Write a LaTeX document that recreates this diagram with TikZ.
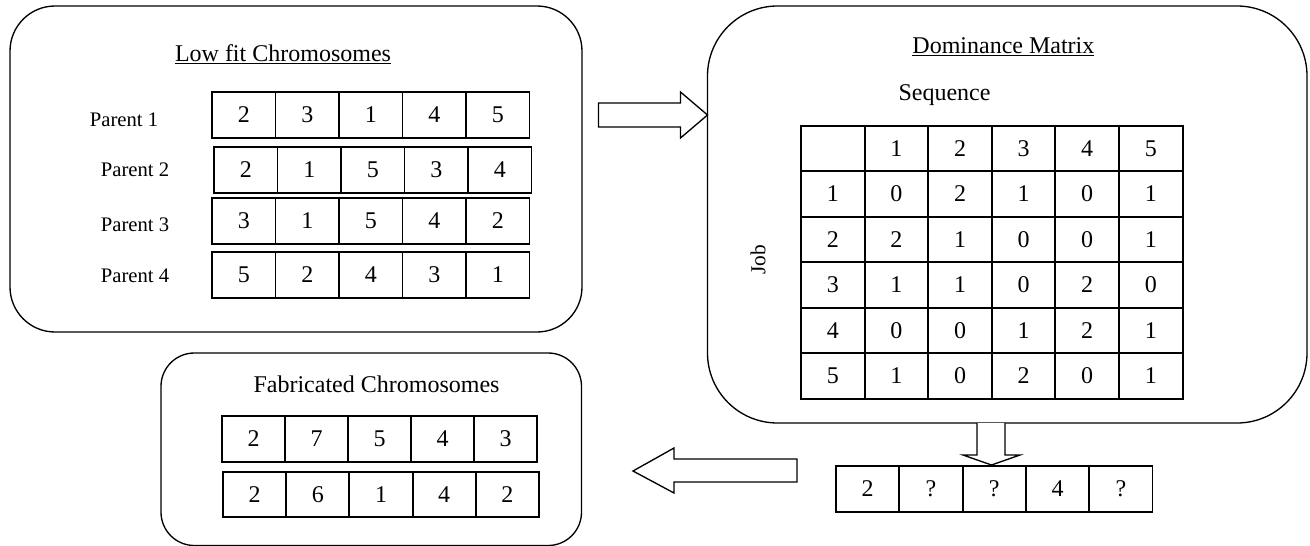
\documentclass[tikz,border=0pt]{standalone}
\usepackage{fontspec}
\setmainfont{Liberation Serif}
\usetikzlibrary{fit,calc}
\begin{document}
\begin{tikzpicture}[x=0.75pt,y=-0.75pt,
  panel/.style={draw, line width=1pt, inner sep=0pt, outer sep=0pt},
  cell/.style={draw, line width=1.4pt, inner sep=0pt, outer sep=0pt, font=\fontsize{18}{21}\selectfont},
  ttl/.style={font=\fontsize{18}{22}\selectfont, anchor=base, inner sep=0pt},
  plabel/.style={font=\fontsize{15.5}{18}\selectfont, anchor=base, inner sep=0pt},
  blockarrow/.style={draw, line width=1pt, fill=white, line join=miter}]
\useasboundingbox (0,0) rectangle (1310,546);
\fill[white] (0,0) rectangle (1310,546);

% panels
\node[panel, rounded corners=33.75pt, fit={(10,6) (582,332)}] (low) {};
\node[panel, rounded corners=52.5pt, fit={(707.5,6) (1307,423)}] (dom) {};
\node[panel, rounded corners=25pt, fit={(161,353) (581.5,545.5)}] (fab) {};

% titles
\node[ttl] (lowt) at (283,61) {\underline{Low fit Chromosomes}};
\node[ttl] (domt) at (1003.4,53) {\underline{Dominance Matrix}};
\node[ttl] (seq) at (944.5,100.7) {Sequence};
\node[ttl] (fabt) at (376.5,392.7) {Fabricated Chromosomes};
\node[font=\fontsize{16}{19}\selectfont, rotate=90, inner sep=0pt] (job) at (758,260) {Job};

% parent labels
\node[plabel] (l1) at (124,126.7) {Parent 1};
\node[plabel] (l2) at (135,176.7) {Parent 2};
\node[plabel] (l3) at (135,231.7) {Parent 3};
\node[plabel] (l4) at (135,282.7) {Parent 4};

% parent chromosomes
\foreach \r/\x/\y/\vals in {1/212/92/{2,3,1,4,5}, 2/214/147/{2,1,5,3,4}, 3/212/198/{3,1,5,4,2}, 4/212/252/{5,2,4,3,1}} {
  \foreach \v [count=\c] in \vals {
    \node[cell, minimum width=47.6pt, minimum height=34.5pt] (p\r-\c) at ({\x+63.5*(\c-0.5)},{\y+23}) {\v};
  }
}

% dominance matrix
\foreach \r/\vals in {0/{{},1,2,3,4,5}, 1/{1,0,2,1,0,1}, 2/{2,2,1,0,0,1}, 3/{3,1,1,0,2,0}, 4/{4,0,0,1,2,1}, 5/{5,1,0,2,0,1}} {
  \foreach \v [count=\c] in \vals {
    \node[cell, minimum width=47.7pt, minimum height=34.1pt] (m\r-\c) at ({801+63.6*(\c-0.5)},{125.7+45.5*(\r+0.5)}) {\v};
  }
}

% partial sequence
\foreach \v [count=\c] in {2,?,?,4,?} {
  \node[cell, minimum width=47.5pt, minimum height=34.3pt] (s-\c) at ({836+63.3*(\c-0.5)},488.8) {\v};
}

% fabricated chromosomes
\foreach \v [count=\c] in {2,7,5,4,3} {
  \node[cell, minimum width=47.25pt, minimum height=34.5pt] (f1-\c) at ({222+63*(\c-0.5)},439) {\v};
}
\foreach \v [count=\c] in {2,6,1,4,2} {
  \node[cell, minimum width=47.4pt, minimum height=33.75pt] (f2-\c) at ({223+63.2*(\c-0.5)},494.5) {\v};
}

% block arrows
\coordinate (y1) at (0,115);
\coordinate (a1t) at (dom.west |- y1);
\draw[blockarrow] (a1t) ++(-109,-12) -- ++(82,0) -- ++(0,-11) -- (a1t) -- ++(-27,23) -- ++(0,-11) -- ++(-82,0) -- cycle;

\coordinate (a2t) at (991.5,465);
\coordinate (a2s) at (991.5,423);
\draw[blockarrow] (a2s) ++(-14.5,0) -- ++(0,32) -- ++(-14,0) -- (a2t) -- ++(28.5,-10) -- ++(-15,0) -- ++(0,-32);

\coordinate (a3t) at (633,471);
\draw[blockarrow] (a3t) -- ++(41,-23) -- ++(0,11) -- ++(123,0) -- ++(0,23) -- ++(-123,0) -- ++(0,11) -- cycle;
\end{tikzpicture}
\end{document}
